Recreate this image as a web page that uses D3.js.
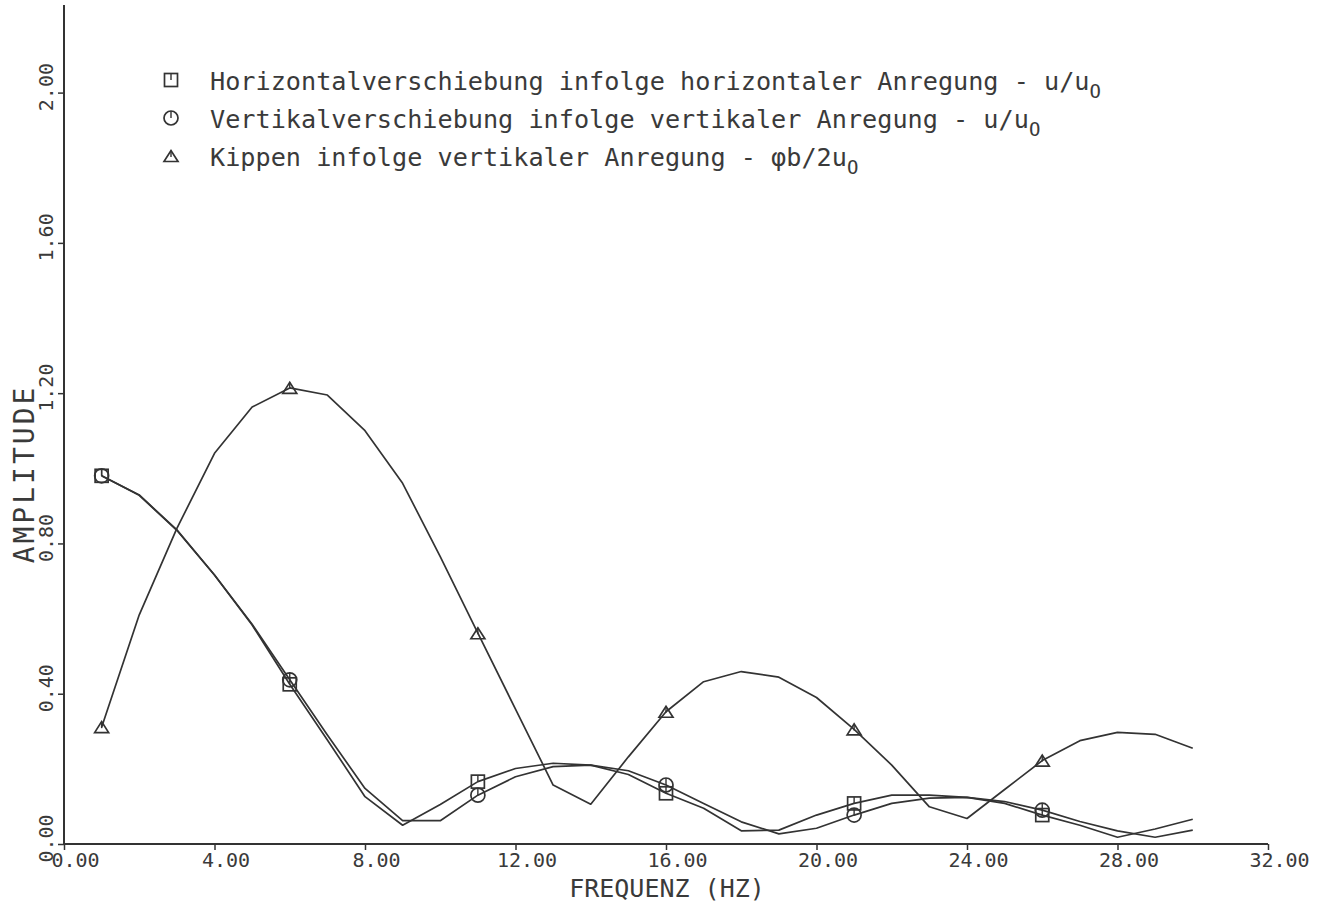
<!DOCTYPE html>
<html>
<head>
<meta charset="utf-8">
<script src="https://cdn.jsdelivr.net/npm/d3@7"></script>
<style>
  html, body { margin: 0; padding: 0; background: #fff; }
  svg { display: block; }
  text { font-family: "DejaVu Sans Mono", monospace; fill: #3a3a3a; }
</style>
</head>
<body>
<svg id="chart" width="1337" height="909"></svg>
<script>
// ---- data ----
const freq = [1,2,3,4,5,6,7,8,9,10,11,12,13,14,15,16,17,18,19,20,21,22,23,24,25,26,27,28,29,30];
const horizontal = [0.980,0.929,0.836,0.716,0.583,0.425,0.277,0.126,0.050,0.105,0.166,0.201,0.215,0.210,0.185,0.135,0.095,0.035,0.037,0.077,0.108,0.130,0.130,0.124,0.108,0.077,0.050,0.018,0.040,0.066];
const vertical   = [0.980,0.928,0.835,0.716,0.585,0.437,0.290,0.148,0.062,0.062,0.130,0.179,0.206,0.210,0.195,0.157,0.108,0.059,0.027,0.042,0.077,0.108,0.122,0.124,0.113,0.090,0.060,0.035,0.018,0.037];
const kippen     = [0.311,0.610,0.840,1.040,1.163,1.214,1.195,1.100,0.960,0.765,0.561,0.359,0.157,0.106,0.232,0.352,0.432,0.459,0.444,0.390,0.305,0.210,0.099,0.068,0.145,0.222,0.275,0.297,0.292,0.255];
const markerFreq = [1,6,11,16,21,26];
const xTicks = [0,4,8,12,16,20,24,28,32];
const yTicks = [0,0.4,0.8,1.2,1.6,2.0];
const legendLabels = [
  {sym:"square",   text:"Horizontalverschiebung infolge horizontaler Anregung - u/u", sub:"O"},
  {sym:"circle",   text:"Vertikalverschiebung infolge vertikaler Anregung - u/u", sub:"O"},
  {sym:"triangle", text:"Kippen infolge vertikaler Anregung - \u03C6b/2u", sub:"O"}
];
const xTitle = "FREQUENZ (HZ)";
const yTitle = "AMPLITUDE";

// ---- drawing ----
const svg = d3.select("#chart");
const ink = "#333";
const x = d3.scaleLinear().domain([0, 32]).range([64, 1268]);
const y = d3.scaleLinear().domain([0, 2]).range([844, 92.6]);
const yTop = 5;

// axes
const xAxis = d3.axisBottom(x).tickValues(xTicks).tickSize(6).tickFormat(d3.format(".2f"));
const gx = svg.append("g").attr("transform", `translate(0,${y(0)})`).call(xAxis);
gx.select(".domain").attr("d", `M${x(0)},0H${x(32)}`).attr("stroke", ink).attr("stroke-width", 2);
gx.selectAll(".tick line").attr("stroke", ink).attr("stroke-width", 1.5);
gx.selectAll(".tick text").attr("fill", "#3a3a3a").attr("font-size", 20)
  .attr("font-family", "DejaVu Sans Mono").attr("x", 11).attr("y", 23).attr("dy", 0);

const yAxis = d3.axisLeft(y).tickValues(yTicks).tickSize(6).tickFormat(d3.format(".2f"));
const gy = svg.append("g").attr("transform", `translate(${x(0)},0)`).call(yAxis);
gy.select(".domain").attr("d", `M0,${y(0)}V${yTop}`).attr("stroke", ink).attr("stroke-width", 2);
gy.selectAll(".tick line").attr("stroke", ink).attr("stroke-width", 1.5);
gy.selectAll(".tick text").attr("fill", "#3a3a3a").attr("font-size", 20)
  .attr("font-family", "DejaVu Sans Mono")
  .attr("x", null).attr("dy", 0)
  .attr("text-anchor", "middle")
  .attr("transform", "translate(-11,-6) rotate(-90)");

// titles
svg.append("text").attr("x", 667).attr("y", 897).attr("text-anchor", "middle")
  .attr("font-size", 25).text(xTitle);
svg.append("text").attr("text-anchor", "middle").attr("font-size", 28)
  .attr("letter-spacing", 3)
  .attr("transform", `translate(34,${474}) rotate(-90)`).text(yTitle);

// lines
const line = d3.line().x((d) => x(d[0])).y((d) => y(d[1]));
const series = [
  {vals: horizontal, sym: "square"},
  {vals: vertical, sym: "circle"},
  {vals: kippen, sym: "triangle"}
];
series.forEach(s => {
  const pts = freq.map((f, i) => [f, s.vals[i]]);
  svg.append("path").datum(pts).attr("d", line)
    .attr("fill", "none").attr("stroke", ink).attr("stroke-width", 1.7)
    .attr("stroke-linejoin", "round");
});

// marker drawing
function drawSymbol(g, sym, cx, cy) {
  if (sym === "square") {
    g.append("rect").attr("x", cx - 6.5).attr("y", cy - 6.5).attr("width", 13).attr("height", 13)
      .attr("fill", "none").attr("stroke", ink).attr("stroke-width", 1.7);
    g.append("line").attr("x1", cx).attr("x2", cx).attr("y1", cy - 6.5).attr("y2", cy)
      .attr("stroke", ink).attr("stroke-width", 1.4);
  } else if (sym === "circle") {
    g.append("circle").attr("cx", cx).attr("cy", cy).attr("r", 7)
      .attr("fill", "none").attr("stroke", ink).attr("stroke-width", 1.7);
    g.append("line").attr("x1", cx).attr("x2", cx).attr("y1", cy - 7).attr("y2", cy)
      .attr("stroke", ink).attr("stroke-width", 1.4);
  } else {
    const h = 11, w = 14;
    g.append("path").attr("d", `M${cx - w/2},${cy + h/2}L${cx},${cy - h/2}L${cx + w/2},${cy + h/2}Z`)
      .attr("fill", "none").attr("stroke", ink).attr("stroke-width", 1.7);
    g.append("line").attr("x1", cx).attr("x2", cx).attr("y1", cy - h/2).attr("y2", cy + 1)
      .attr("stroke", ink).attr("stroke-width", 1.4);
  }
}
const gm = svg.append("g");
series.forEach(s => {
  markerFreq.forEach(f => {
    const i = freq.indexOf(f);
    drawSymbol(gm, s.sym, x(f), y(s.vals[i]));
  });
});

// legend
const legY = [80, 118, 156];
const legBase = [90, 128, 166];
legendLabels.forEach((l, i) => {
  drawSymbol(svg, l.sym, 171, legY[i]);
  const t = svg.append("text").attr("x", 210).attr("y", legBase[i]).attr("font-size", 25.2);
  t.append("tspan").text(l.text);
  t.append("tspan").attr("font-size", 19).attr("dy", 8).text(l.sub);
});
</script>
</body>
</html>
